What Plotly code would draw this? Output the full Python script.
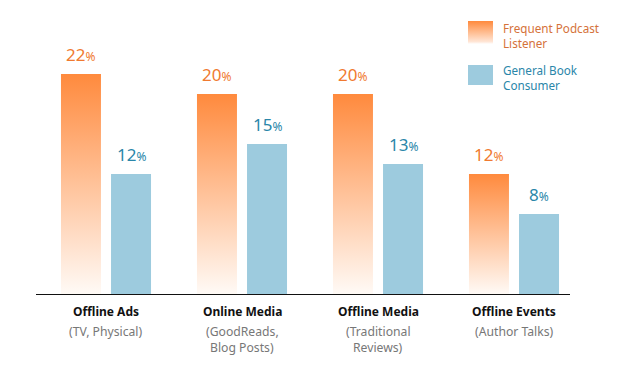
import plotly.graph_objects as go

categories = ["Offline Ads", "Online Media", "Offline Media", "Offline Events"]
subtitles = ["(TV, Physical)", "(GoodReads,<br>Blog Posts)", "(Traditional<br>Reviews)", "(Author Talks)"]
podcast = [22, 20, 20, 12]
book = [12, 15, 13, 8]
series_names = ["Frequent Podcast<br>Listener", "General Book<br>Consumer"]

W, H = 620, 369
ORANGE = "#FF8A3D"
ORANGE_TXT = "#F07A30"
BLUE = "#9DCBDE"
BLUE_TXT = "#2A86A9"
FONT = "Noto Sans"

off = 0.184
bw = 0.294

fig = go.Figure()

# orange gradient bars
for i, v in enumerate(podcast):
    x0, x1 = i - off - bw / 2, i - off + bw / 2
    fig.add_trace(go.Scatter(
        x=[x0, x1, x1, x0, x0], y=[0, 0, v, v, 0],
        mode="lines", line=dict(width=0), fill="toself",
        fillgradient=dict(type="vertical", start=0, stop=v,
                          colorscale=[[0, "#FFFAF6"], [1, ORANGE]]),
        hoverinfo="skip", showlegend=False))

fig.add_trace(go.Bar(x=[i + off for i in range(len(book))], y=book, width=bw,
                     marker=dict(color=BLUE, line=dict(width=0)),
                     hoverinfo="skip", showlegend=False))

# value labels
for i, (p, b) in enumerate(zip(podcast, book)):
    fig.add_annotation(x=i - off, y=p, yanchor="bottom", yshift=6, showarrow=False,
                       text=f"{p}<span style='font-size:12px'>%</span>",
                       font=dict(family=FONT, size=17, color=ORANGE_TXT))
    fig.add_annotation(x=i + off, y=b, yanchor="bottom", yshift=6, showarrow=False,
                       text=f"{b}<span style='font-size:12px'>%</span>",
                       font=dict(family=FONT, size=17, color=BLUE_TXT))

# category labels
for i, (c, s) in enumerate(zip(categories, subtitles)):
    fig.add_annotation(x=i, y=0, yanchor="middle", yshift=-17, showarrow=False,
                       text=f"<b>{c}</b>", font=dict(family=FONT, size=12, color="#111111"))
    for k, line in enumerate(s.split("<br>")):
        fig.add_annotation(x=i, y=0, yanchor="middle", yshift=-37 - 16 * k, showarrow=False,
                           text=line, font=dict(family=FONT, size=12.2, color="#777777"))

# legend (custom) on a pixel-space axis pair
fig.add_trace(go.Scatter(
    x=[468, 493, 493, 468, 468], y=[44, 44, 21, 21, 44],
    xaxis="x2", yaxis="y2", mode="lines", line=dict(width=0), fill="toself",
    fillgradient=dict(type="vertical", colorscale=[[0, "#FFFFFF"], [0.1, "#FFE6D6"], [1, ORANGE]]),
    hoverinfo="skip", showlegend=False))
fig.add_trace(go.Scatter(
    x=[468, 493, 493, 468, 468], y=[85, 85, 65, 65, 85],
    xaxis="x2", yaxis="y2", mode="lines", line=dict(width=0), fill="toself",
    fillcolor=BLUE, hoverinfo="skip", showlegend=False))
fig.add_annotation(xref="x2", yref="y2", x=501, y=35, xanchor="left", yanchor="middle",
                   showarrow=False, align="left", text=series_names[0],
                   font=dict(family=FONT, size=11.7, color="#D5723A"))
fig.add_annotation(xref="x2", yref="y2", x=501, y=77, xanchor="left", yanchor="middle",
                   showarrow=False, align="left", text=series_names[1],
                   font=dict(family=FONT, size=11.7, color=BLUE_TXT))

x_left = (36 - 106) / 136
x_right = (570 - 106) / 136

fig.update_layout(
    width=W, height=H,
    margin=dict(l=0, r=0, t=0, b=0),
    paper_bgcolor="white", plot_bgcolor="rgba(0,0,0,0)",
    showlegend=False,
    xaxis=dict(domain=[36 / W, 570 / W], range=[x_left, x_right], showgrid=False,
               zeroline=False, showticklabels=False, ticks="", showline=True,
               linecolor="#111111", linewidth=1.3, fixedrange=True),
    yaxis=dict(domain=[(H - 294) / H, (H - 34) / H], range=[0, 26], showgrid=False,
               zeroline=False, showticklabels=False, ticks="", showline=False, fixedrange=True),
    xaxis2=dict(domain=[0, 1], range=[0, W], visible=False, anchor="y2", fixedrange=True),
    yaxis2=dict(domain=[0, 1], range=[H, 0], visible=False, anchor="x2", fixedrange=True),
)

fig.write_html("out.html", config={"displayModeBar": False},
               post_script="document.body.style.margin='0';document.body.style.overflow='hidden';")
